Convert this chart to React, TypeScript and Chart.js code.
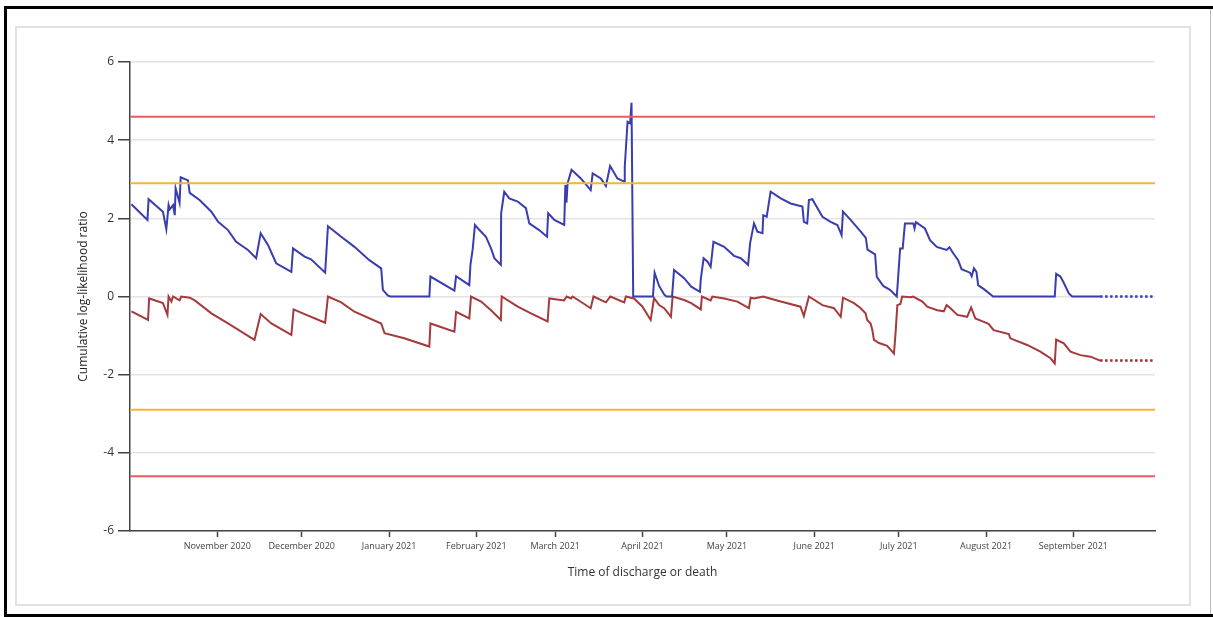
import React, { useEffect, useRef } from 'react';
import { Chart, registerables } from 'chart.js';

Chart.register(...registerables);

// x values are days since 1 October 2020
const axisStartDay = 0;
const axisEndDay = 364;
const monthTickDays = [31, 61, 92, 123, 151, 182, 212, 243, 273, 304, 335];
const monthTickLabels = [
  'November 2020', 'December 2020', 'January 2021', 'February 2021', 'March 2021',
  'April 2021', 'May 2021', 'June 2021', 'July 2021', 'August 2021', 'September 2021',
];
const yTickValues = [-6, -4, -2, 0, 2, 4, 6];

const blueDays = [
  0.5, 6.2, 6.6, 11.7, 12.9, 13.7, 14.1, 15.3, 15.9, 16.2, 17.6, 18.0, 20.6, 21.2, 24.7, 28.9,
  31.3, 34.8, 37.7, 41.9, 44.8, 46.4, 49.0, 51.9, 57.3, 57.9, 62.0, 64.3, 69.3, 70.3, 75.0, 79.7,
  85.0, 89.2, 89.8, 91.6, 92.5, 106.3, 106.7, 115.2, 115.8, 120.5, 120.9, 121.7, 122.5, 124.1,
  126.4, 128.2, 129.4, 131.7, 131.8, 132.9, 134.7, 137.7, 140.6, 141.8, 145.3, 148.1, 148.5,
  150.7, 154.2, 154.6, 155.0, 155.4, 156.8, 160.1, 163.6, 164.3, 167.2, 169.0, 170.5, 173.1,
  175.5, 175.7, 176.7, 177.6, 178.1, 178.7, 185.7, 186.3, 187.9, 189.7, 190.5, 192.5, 193.2,
  196.8, 199.3, 202.4, 202.7, 203.7, 205.1, 206.2, 207.2, 211.0, 214.5, 216.9, 219.5, 220.2,
  221.6, 222.8, 224.6, 224.9, 226.1, 227.5, 231.1, 234.6, 238.8, 239.3, 240.5, 241.1, 242.3,
  245.9, 248.8, 251.2, 252.7, 253.2, 255.9, 259.5, 261.3, 261.9, 264.6, 265.2, 267.5, 269.9,
  272.3, 272.9, 273.5, 274.4, 275.2, 278.2, 278.6, 279.1, 282.3, 284.1, 286.5, 290.0, 291.0,
  292.4, 294.1, 295.3, 298.3, 298.9, 299.7, 300.6, 301.2, 303.6, 306.5, 328.4, 328.9, 330.4,
  331.6, 333.4, 334.6, 344.5,
];
const blueValues = [
  2.36, 1.96, 2.49, 2.17, 1.72, 2.34, 2.23, 2.34, 2.08, 2.77, 2.40, 3.05, 2.97, 2.65, 2.47, 2.17,
  1.91, 1.70, 1.40, 1.19, 0.98, 1.62, 1.32, 0.85, 0.63, 1.23, 1.02, 0.95, 0.61, 1.80, 1.53, 1.27,
  0.93, 0.72, 0.17, 0.02, 0, 0, 0.51, 0.15, 0.52, 0.29, 0.81, 1.21, 1.83, 1.70,
  1.53, 1.23, 0.98, 0.81, 2.13, 2.68, 2.51, 2.43, 2.26, 1.87, 1.70, 1.53, 2.13,
  1.96, 1.83, 2.85, 2.40, 2.90, 3.24, 3.02, 2.72, 3.15, 3.02, 2.83, 3.34, 3.02,
  2.94, 3.32, 4.47, 4.43, 4.96, 0, 0, 0.61, 0.27, 0.05, 0, 0, 0.68,
  0.47, 0.25, 0.12, 0.44, 0.98, 0.89, 0.76, 1.40, 1.27, 1.04, 0.98, 0.81, 1.36,
  1.87, 1.66, 1.62, 2.08, 2.04, 2.68, 2.51, 2.38, 2.30, 1.91, 1.87, 2.47, 2.49,
  2.04, 1.91, 1.83, 1.57, 2.17, 1.96, 1.66, 1.50, 1.20, 1.08, 0.50, 0.27, 0.17,
  0, 0.61, 1.23, 1.23, 1.87, 1.87, 1.74, 1.90, 1.74, 1.44, 1.27, 1.19, 1.26,
  1.10, 0.93, 0.70, 0.61, 0.52, 0.72, 0.63, 0.29, 0.17, 0, 0, 0.58, 0.51,
  0.35, 0.08, 0, 0,
];

const redDays = [
  0.5, 6.4, 6.8, 11.7, 13.3, 13.7, 14.7, 15.3, 17.6, 18.2, 21.2, 23.0, 28.9, 34.8, 44.2, 46.4,
  50.2, 57.3, 58.1, 62.0, 69.3, 70.3, 75.0, 79.7, 89.2, 90.4, 97.4, 106.3, 106.7, 115.2, 115.8,
  120.5, 121.1, 124.7, 128.2, 131.7, 132.0, 137.7, 142.4, 148.3, 148.9, 154.2, 155.1, 156.6,
  157.2, 163.6, 164.6, 169.0, 170.6, 175.5, 176.1, 179.0, 182.0, 184.9, 186.1, 187.9, 189.7,
  192.1, 192.7, 196.8, 199.3, 202.7, 203.1, 206.2, 206.8, 211.0, 215.7, 219.8, 220.4, 221.6,
  224.9, 226.3, 231.1, 238.1, 239.3, 241.1, 245.9, 250.0, 252.4, 253.2, 257.1, 259.5, 261.2,
  261.8, 263.0, 263.6, 264.2, 266.0, 268.9, 271.3, 271.9, 272.5, 273.6, 274.2, 277.2, 278.1,
  281.4, 283.1, 286.7, 289.0, 290.0, 291.4, 293.8, 297.3, 298.7, 300.2, 303.2, 304.9, 306.7,
  312.1, 312.6, 318.6, 323.3, 326.9, 328.4, 328.9, 331.6, 334.0, 337.5, 341.1, 344.5,
];
const redValues = [
  -0.38, -0.60, -0.05, -0.17, -0.47, 0, -0.13, 0, -0.10, 0, -0.03, -0.10, -0.43, -0.69, -1.11, -0.45,
  -0.69, -0.98, -0.33, -0.45, -0.67, 0, -0.15, -0.39, -0.69, -0.94, -1.07, -1.28, -0.69, -0.90, -0.39,
  -0.56, 0, -0.13, -0.35, -0.60, 0, -0.26, -0.43, -0.64, -0.05, -0.10, 0, -0.05,
  0, -0.30, 0, -0.15, 0, -0.15, 0, -0.05, -0.26, -0.60, -0.04, -0.22, -0.30,
  -0.52, 0, -0.09, -0.17, -0.33, 0, -0.10, 0, -0.05, -0.13, -0.30, -0.03, -0.05,
  0, -0.03, -0.13, -0.26, -0.50, 0, -0.22, -0.30, -0.52, -0.03, -0.17, -0.30, -0.43,
  -0.60, -0.69, -0.85, -1.11, -1.19, -1.26, -1.46, -0.90, -0.22, -0.19, 0, -0.02, 0,
  -0.13, -0.26, -0.35, -0.38, -0.22, -0.30, -0.47, -0.52, -0.28, -0.56, -0.65, -0.70, -0.86,
  -0.96, -1.07, -1.24, -1.41, -1.58, -1.71, -1.10, -1.20, -1.41, -1.50, -1.54, -1.64,
];

const projectionDays = [344.5, 364];
const blueProjection = [0, 0];
const redProjection = [-1.64, -1.64];

const thresholdDays = [axisStartDay, axisEndDay];
const alarmLimit = 4.6;
const alertLimit = 2.9;

const pts = (xs: number[], ys: number[]) => xs.map((x, i) => ({ x, y: ys[i] }));

export default function App() {
  const canvasRef = useRef<HTMLCanvasElement | null>(null);

  useEffect(() => {
    const canvas = canvasRef.current;
    if (!canvas) return;
    const flat = (v: number) => thresholdDays.map(() => v);
    const thresholdStyle = (color: string) => ({
      borderColor: color,
      borderWidth: 2,
      pointRadius: 0,
      fill: false,
    });
    const chart = new Chart(canvas, {
      type: 'line',
      data: {
        datasets: [
          { data: pts(thresholdDays, flat(alarmLimit)), ...thresholdStyle('#f05a5c') },
          { data: pts(thresholdDays, flat(alertLimit)), ...thresholdStyle('#f5b23c') },
          { data: pts(thresholdDays, flat(-alertLimit)), ...thresholdStyle('#f5b23c') },
          { data: pts(thresholdDays, flat(-alarmLimit)), ...thresholdStyle('#f05a5c') },
          {
            data: pts(blueDays, blueValues),
            borderColor: '#3a3db0',
            borderWidth: 2,
            pointRadius: 0,
            tension: 0,
          },
          {
            data: pts(redDays, redValues),
            borderColor: '#a53a3c',
            borderWidth: 2,
            pointRadius: 0,
            tension: 0,
          },
          {
            data: pts(projectionDays, blueProjection),
            borderColor: '#3a3db0',
            borderWidth: 2.5,
            borderDash: [2.5, 2.5],
            pointRadius: 0,
          },
          {
            data: pts(projectionDays, redProjection),
            borderColor: '#a02c30',
            borderWidth: 2.5,
            borderDash: [2.5, 2.5],
            pointRadius: 0,
          },
        ],
      },
      options: {
        animation: false,
        responsive: false,
        devicePixelRatio: 1,
        layout: { padding: { left: 72, right: 58, top: 62, bottom: 34 } },
        plugins: { legend: { display: false }, tooltip: { enabled: false } },
        scales: {
          x: {
            type: 'linear',
            min: axisStartDay,
            max: axisEndDay,
            afterFit: (scale: any) => { scale.height = 52; },
            afterBuildTicks: (scale: any) => {
              scale.ticks = monthTickDays.map((v) => ({ value: v }));
            },
            grid: {
              drawOnChartArea: false,
              drawTicks: true,
              tickLength: 6,
              tickColor: '#444',
              tickWidth: 1.5,
            },
            border: { display: true, color: '#444', width: 1.5 },
            ticks: {
              autoSkip: false,
              maxRotation: 0,
              padding: 4,
              color: '#444',
              font: { family: 'Open Sans', size: 9 },
              callback: (value: any) => {
                const i = monthTickDays.indexOf(Number(value));
                return i >= 0 ? monthTickLabels[i] : '';
              },
            },
            title: {
              display: true,
              text: 'Time of discharge or death',
              color: '#333',
              font: { family: 'Open Sans', size: 12 },
              padding: { top: 4, bottom: 3 },
            },
          },
          y: {
            type: 'linear',
            min: -6,
            max: 6,
            afterFit: (scale: any) => { scale.width = 58; },
            afterBuildTicks: (scale: any) => {
              scale.ticks = yTickValues.map((v) => ({ value: v }));
            },
            grid: {
              color: '#e4e4e4',
              lineWidth: 1.5,
              drawTicks: true,
              tickLength: 12,
              tickColor: '#444',
              tickWidth: 1.5,
            },
            border: { display: true, color: '#444', width: 1.5 },
            ticks: {
              padding: 4,
              color: '#333',
              font: { family: 'Open Sans', size: 12 },
            },
            title: {
              display: true,
              text: 'Cumulative log-likelihood ratio',
              color: '#222',
              font: { family: 'Open Sans', size: 12 },
              padding: { top: 4, bottom: 4 },
            },
          },
        },
      },
    });
    return () => chart.destroy();
  }, []);

  return (
    <div style={{ position: 'absolute', left: 0, top: 0, width: 1213, height: 617, background: '#fff', overflow: 'hidden' }}>
      <div style={{ position: 'absolute', left: 4, top: 6, width: 1209, height: 3, background: '#000' }} />
      <div style={{ position: 'absolute', left: 4, top: 6, width: 3, height: 611, background: '#000' }} />
      <div style={{ position: 'absolute', left: 4, top: 614, width: 1209, height: 3, background: '#000' }} />
      <div style={{ position: 'absolute', left: 1210, top: 9, width: 1, height: 605, background: '#bbb' }} />
      <div style={{ position: 'absolute', left: 15, top: 26, width: 1172, height: 576, border: '2px solid #e2e2e2' }} />
      <canvas
        ref={canvasRef}
        width={1213}
        height={617}
        style={{ position: 'absolute', left: 0, top: 0, width: 1213, height: 617 }}
      />
    </div>
  );
}
